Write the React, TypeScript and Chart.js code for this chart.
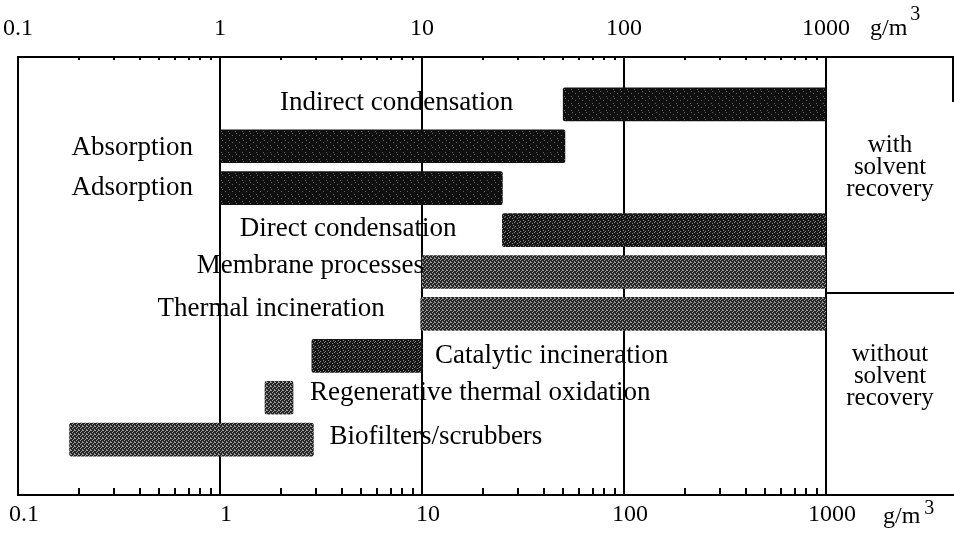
import React, { useEffect, useRef } from 'react';
import { Chart, registerables } from 'chart.js';

Chart.register(...registerables);

// ---------- data ----------
const processes = [
  'Indirect condensation',
  'Absorption',
  'Adsorption',
  'Direct condensation',
  'Membrane processes',
  'Thermal incineration',
  'Catalytic incineration',
  'Regenerative thermal oxidation',
  'Biofilters/scrubbers',
];
const rangeStart = [50, 1, 1, 25, 10, 9.85, 2.85, 1.67, 0.18];
const rangeEnd = [1000, 51, 25, 1000, 1000, 1000, 10, 2.3, 2.9];
const withRecoveryCount = 5;
const tickValues = [0.1, 1, 10, 100, 1000];
const minorMultipliers = [2, 3, 4, 5, 6, 7, 8, 9];
const unitText = 'g/m';
const unitExponent = '3';
const groupWith = ['with', 'solvent', 'recovery'];
const groupWithout = ['without', 'solvent', 'recovery'];

// ---------- styling ----------
const SERIF = "'Liberation Serif', 'Times New Roman', Times, serif";
const barTone = ['dark', 'dark', 'dark', 'mid', 'light', 'light', 'mid', 'light', 'light'];
const labelPlace = [
  { side: 'left', gap: 50, dy: -1 },
  { side: 'left', gap: 27, dy: 2 },
  { side: 'left', gap: 27, dy: 0 },
  { side: 'left', gap: 46, dy: -1 },
  { side: 'left', gap: -2, dy: -6 },
  { side: 'left', gap: 36, dy: -5 },
  { side: 'right', gap: 13, dy: 0 },
  { side: 'right', gap: 17, dy: -5 },
  { side: 'right', gap: 16, dy: -3 },
];

function makePattern(
  ctx: CanvasRenderingContext2D,
  size: number,
  base: string,
  dot: string,
  dots: number[][]
) {
  const c = document.createElement('canvas');
  c.width = size;
  c.height = size;
  const g = c.getContext('2d')!;
  g.fillStyle = base;
  g.fillRect(0, 0, size, size);
  g.fillStyle = dot;
  dots.forEach(([x, y]) => g.fillRect(x, y, 1, 1));
  return ctx.createPattern(c, 'repeat') as CanvasPattern;
}

const decorPlugin = {
  id: 'decor',
  afterDatasetsDraw(chart: any) {
    const ctx: CanvasRenderingContext2D = chart.ctx;
    const area = chart.chartArea;
    const xs = chart.scales.x;
    const ys = chart.scales.y;
    const W = chart.width;
    ctx.save();
    ctx.strokeStyle = '#000';
    ctx.lineWidth = 2;
    const divY = Math.round(ys.getPixelForValue(withRecoveryCount - 0.5));
    ctx.beginPath();
    ctx.moveTo(area.right, area.top);
    ctx.lineTo(W, area.top);
    ctx.moveTo(area.right, area.bottom);
    ctx.lineTo(W, area.bottom);
    ctx.moveTo(area.right, divY);
    ctx.lineTo(W, divY);
    ctx.moveTo(W - 1, area.top);
    ctx.lineTo(W - 1, area.top + 45);
    ctx.stroke();

    // minor ticks
    ctx.lineWidth = 2;
    ctx.beginPath();
    for (let d = -1; d < 3; d++) {
      minorMultipliers.forEach((m) => {
        const v = m * Math.pow(10, d);
        const px = Math.round(xs.getPixelForValue(v));
        ctx.moveTo(px, area.bottom);
        ctx.lineTo(px, area.bottom - 7);
        ctx.moveTo(px, area.top);
        ctx.lineTo(px, area.top + 3);
      });
    }
    ctx.stroke();

    // bar labels
    const meta = chart.getDatasetMeta(0);
    ctx.fillStyle = '#000';
    ctx.font = `27px ${SERIF}`;
    ctx.textBaseline = 'middle';
    meta.data.forEach((bar: any, i: number) => {
      const { x, base, y } = bar.getProps(['x', 'base', 'y'], true);
      const lo = Math.min(x, base);
      const hi = Math.max(x, base);
      const p = labelPlace[i];
      if (p.side === 'left') {
        ctx.textAlign = 'right';
        ctx.fillText(processes[i], lo - p.gap, y + p.dy);
      } else {
        ctx.textAlign = 'left';
        ctx.fillText(processes[i], hi + p.gap, y + p.dy);
      }
    });

    // group labels
    ctx.font = `25px ${SERIF}`;
    ctx.textAlign = 'center';
    ctx.textBaseline = 'alphabetic';
    const cx = (area.right + W) / 2;
    groupWith.forEach((t, k) => ctx.fillText(t, cx, area.top + 95 + k * 22));
    groupWithout.forEach((t, k) => ctx.fillText(t, cx, divY + 68 + k * 22));

    // units
    ctx.textAlign = 'left';
    ctx.font = `24px ${SERIF}`;
    const ux1 = area.right + 44;
    ctx.fillText(unitText, ux1, 35);
    const w1 = ctx.measureText(unitText).width;
    const ux2 = area.right + 57;
    ctx.fillText(unitText, ux2, area.bottom + 28);
    const w2 = ctx.measureText(unitText).width;
    ctx.font = `20px ${SERIF}`;
    ctx.fillText(unitExponent, ux1 + w1 + 3, 20);
    ctx.fillText(unitExponent, ux2 + w2 + 4, area.bottom + 19);
    ctx.restore();
  },
};

export default function App() {
  const ref = useRef<HTMLCanvasElement>(null);
  useEffect(() => {
    const canvas = ref.current!;
    const ctx = canvas.getContext('2d')!;
    const tones: Record<string, CanvasPattern> = {
      dark: makePattern(ctx, 7, '#101010', '#646464', [[1, 2], [4, 5], [5, 0]]),
      mid: makePattern(ctx, 5, '#181818', '#858585', [[0, 1], [2, 3], [3, 0], [4, 2]]),
      light: makePattern(ctx, 4, '#262626', '#9a9a9a', [[0, 0], [2, 1], [1, 3], [3, 2], [2, 2]]),
    };
    const tickCfg = (labelOffset: number, lineHeight: number) => ({
      autoSkip: false,
      maxRotation: 0,
      minRotation: 0,
      padding: 0,
      labelOffset,
      color: '#000',
      font: { family: SERIF, size: 24, lineHeight: `${lineHeight}px` },
      callback: (v: any) => String(v),
    });
    const setTicks = (scale: any) => {
      scale.ticks = tickValues.map((v) => ({ value: v }));
    };
    const chart = new Chart(canvas, {
      type: 'bar',
      data: {
        datasets: [
          {
            data: processes.map((_, i) => ({ x: [rangeStart[i], rangeEnd[i]], y: i })) as any,
            backgroundColor: barTone.map((t) => tones[t]) as any,
            borderWidth: 0,
            borderRadius: 2,
            borderSkipped: false,
            barThickness: 33,
            xAxisID: 'x',
            yAxisID: 'y',
          },
        ],
      },
      plugins: [decorPlugin],
      options: {
        indexAxis: 'y',
        responsive: false,
        animation: false,
        events: [],
        layout: { padding: { left: 18, right: 128, top: 0, bottom: 0 } },
        plugins: { legend: { display: false }, tooltip: { enabled: false } },
        scales: {
          x: {
            type: 'logarithmic',
            position: 'bottom',
            min: 0.1,
            max: 1000,
            afterBuildTicks: setTicks,
            grid: { display: true, color: '#000', lineWidth: 2, drawTicks: false },
            border: { display: true, color: '#000', width: 2 },
            ticks: tickCfg(6, 40) as any,
          },
          x2: {
            type: 'logarithmic',
            position: 'top',
            min: 0.1,
            max: 1000,
            afterBuildTicks: setTicks,
            grid: { display: false, drawTicks: false },
            border: { display: true, color: '#000', width: 2 },
            ticks: tickCfg(0, 57) as any,
          },
          y: {
            type: 'linear',
            display: false,
            reverse: true,
            offset: false,
            bounds: 'data',
            grid: { offset: false },
            min: -1.13,
            max: 9.32,
            afterDataLimits: (s: any) => {
              s.min = -1.13;
              s.max = 9.32;
            },
          },
        },
      } as any,
    });
    return () => chart.destroy();
  }, []);
  return (
    <div style={{ position: 'absolute', left: 0, top: 0, width: 954, height: 535, background: '#fff' }}>
      <canvas ref={ref} width={954} height={535} style={{ width: 954, height: 535 }} />
    </div>
  );
}
